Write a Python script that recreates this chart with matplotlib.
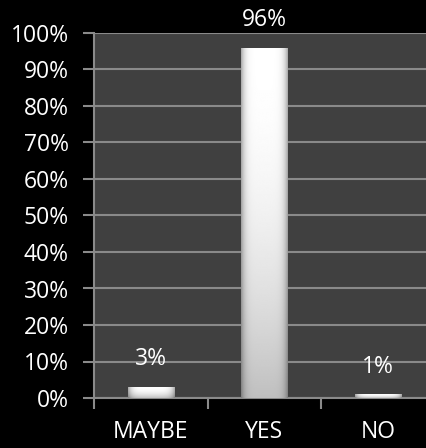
import numpy as np
import matplotlib
matplotlib.use("Agg")
import matplotlib.pyplot as plt

# データ
categories = ["MAYBE", "YES", "NO"]
values = [3, 96, 1]
yticks = [0, 10, 20, 30, 40, 50, 60, 70, 80, 90, 100]

plt.rcParams["font.family"] = ["Open Sans", "DejaVu Sans"]

fig = plt.figure(figsize=(4.27, 4.48), dpi=100, facecolor="black")
ax = fig.add_axes([94 / 427, 50 / 448, 341 / 427, 365 / 448], facecolor="#404040")

x = np.arange(len(categories))
bar_w = 0.41
bars = ax.bar(x, values, width=bar_w, color="white", zorder=3)

# 棒のグラデーション
h = np.linspace(-1, 1, 200)
v = np.linspace(0, 1, 200)[:, None]
horiz = 1 - 0.35 * np.abs(h) ** 6
grad = horiz[None, :] * (1 - 0.25 * (1 - v) ** 2)
for b in bars:
    x0, y0 = b.get_x(), b.get_y()
    w, hh = b.get_width(), b.get_height()
    im = ax.imshow(grad, cmap="gray", vmin=0, vmax=1, extent=[x0, x0 + w, y0, y0 + hh],
                   origin="lower", aspect="auto", zorder=4, interpolation="bilinear")
    im.set_clip_path(b)

ax.set_xlim(-0.5, 2.5)
ax.set_ylim(0, 100)
ax.set_yticks(yticks)
ax.set_yticklabels([f"{t}%" for t in yticks])
ax.set_xticks([-0.5, 0.5, 1.5, 2.5])
ax.set_xticklabels([])
ax.set_xticks(x, minor=True)
ax.set_xticklabels(categories, minor=True)

ax.grid(axis="y", color="#8a8a8a", linewidth=1.5, zorder=1)
ax.set_axisbelow(True)
for s in ["top", "right"]:
    ax.spines[s].set_visible(False)
for s in ["left", "bottom"]:
    ax.spines[s].set_color("#8a8a8a")
    ax.spines[s].set_linewidth(1.5)

fs = 16.5
ax.tick_params(axis="y", colors="#8a8a8a", labelcolor="white", length=8, width=1.5,
               labelsize=fs, pad=10)
ax.tick_params(axis="x", which="major", colors="#8a8a8a", length=8, width=1.5)
ax.tick_params(axis="x", which="minor", length=0, labelcolor="white", labelsize=fs, pad=16)

for xi, val in zip(x, values):
    ax.annotate(f"{val}%", (xi, val), xytext=(0, 20), textcoords="offset points",
                ha="center", va="center", color="white", fontsize=fs)

fig.savefig("out.png", dpi=100, facecolor="black")
